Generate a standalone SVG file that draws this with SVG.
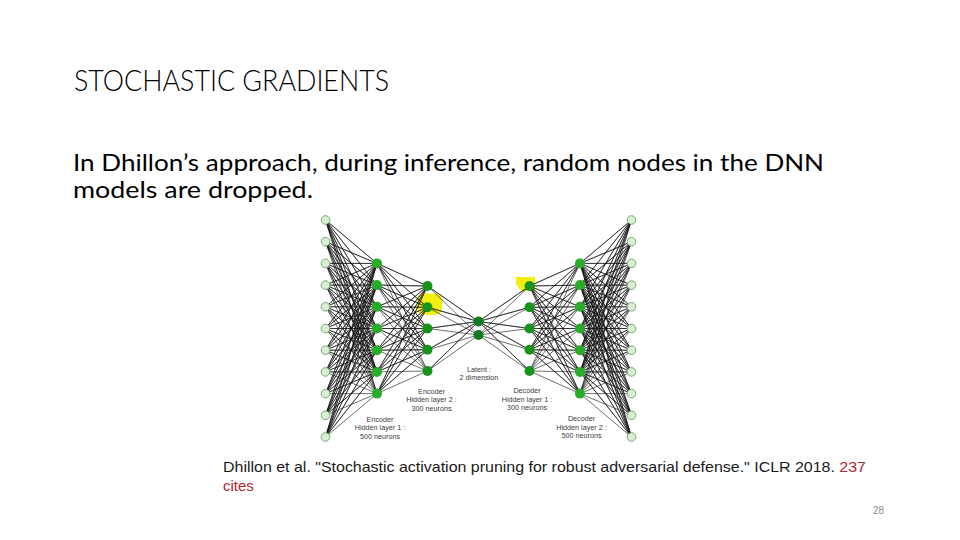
<svg xmlns="http://www.w3.org/2000/svg" xmlns:xlink="http://www.w3.org/1999/xlink" width="960" height="540" viewBox="0 0 960 540">
<defs>
<style>
.title{font-family:Lato,"Liberation Sans",sans-serif;font-weight:300;font-size:29px;fill:#000}
.body{font-family:Lato,"Liberation Sans",sans-serif;font-size:23px;fill:#000}
.cite{font-family:"Liberation Sans",Arial,sans-serif;font-size:15px;fill:#1a1a1a}
.red{fill:#b0262e}
.pg{font-family:"Liberation Sans",Arial,sans-serif;font-size:10px;fill:#8c8c8c}
.lbl{font-family:"Liberation Sans",Arial,sans-serif;font-size:7.2px;fill:#3a3a3a;text-anchor:middle}
.e{fill:none;stroke:#111;stroke-width:0.6}
.in{fill:#d8efd2;stroke:#79a879;stroke-width:1}
.h1{fill:#27ad27}
.h2{fill:#17921b}
.lat{fill:#127a22}
.hl{fill:#f3ee12}
</style>
</defs>
<rect width="960" height="540" fill="#fff"/>

<text class="title" x="74" y="91" textLength="315" lengthAdjust="spacingAndGlyphs">STOCHASTIC GRADIENTS</text>
<text class="body" x="73" y="171" textLength="751" lengthAdjust="spacingAndGlyphs">In Dhillon’s approach, during inference, random nodes in the DNN</text>
<text class="body" x="73" y="198" textLength="240" lengthAdjust="spacingAndGlyphs">models are dropped.</text>

<g id="highlights">
<rect class="hl" x="417" y="293.5" width="25" height="21.5" rx="7"/>
<path class="hl" d="M516 277H535V291H521L516 284Z"/>
</g>

<g id="connectors">
<g id="enc-edges">
<path class="e" d="M325.5 220L377 263.4 325.5 220 377 285.1 325.5 220 377 306.8 325.5 220 377 328.5 325.5 220 377 350.2 325.5 220 377 371.9 325.5 220 377 393.6
M325.5 241.7L377 263.4 325.5 241.7 377 285.1 325.5 241.7 377 306.8 325.5 241.7 377 328.5 325.5 241.7 377 350.2 325.5 241.7 377 371.9 325.5 241.7 377 393.6
M325.5 263.4L377 263.4 325.5 263.4 377 285.1 325.5 263.4 377 306.8 325.5 263.4 377 328.5 325.5 263.4 377 350.2 325.5 263.4 377 371.9 325.5 263.4 377 393.6
M325.5 285.1L377 263.4 325.5 285.1 377 285.1 325.5 285.1 377 306.8 325.5 285.1 377 328.5 325.5 285.1 377 350.2 325.5 285.1 377 371.9 325.5 285.1 377 393.6
M325.5 306.8L377 263.4 325.5 306.8 377 285.1 325.5 306.8 377 306.8 325.5 306.8 377 328.5 325.5 306.8 377 350.2 325.5 306.8 377 371.9 325.5 306.8 377 393.6
M325.5 328.5L377 263.4 325.5 328.5 377 285.1 325.5 328.5 377 306.8 325.5 328.5 377 328.5 325.5 328.5 377 350.2 325.5 328.5 377 371.9 325.5 328.5 377 393.6
M325.5 350.2L377 263.4 325.5 350.2 377 285.1 325.5 350.2 377 306.8 325.5 350.2 377 328.5 325.5 350.2 377 350.2 325.5 350.2 377 371.9 325.5 350.2 377 393.6
M325.5 371.9L377 263.4 325.5 371.9 377 285.1 325.5 371.9 377 306.8 325.5 371.9 377 328.5 325.5 371.9 377 350.2 325.5 371.9 377 371.9 325.5 371.9 377 393.6
M325.5 393.6L377 263.4 325.5 393.6 377 285.1 325.5 393.6 377 306.8 325.5 393.6 377 328.5 325.5 393.6 377 350.2 325.5 393.6 377 371.9 325.5 393.6 377 393.6
M325.5 415.3L377 263.4 325.5 415.3 377 285.1 325.5 415.3 377 306.8 325.5 415.3 377 328.5 325.5 415.3 377 350.2 325.5 415.3 377 371.9 325.5 415.3 377 393.6
M325.5 437L377 263.4 325.5 437 377 285.1 325.5 437 377 306.8 325.5 437 377 328.5 325.5 437 377 350.2 325.5 437 377 371.9 325.5 437 377 393.6"/>
<path class="e" d="M377 263.4L427.5 286 377 263.4 427.5 307.3 377 263.4 427.5 328.5 377 263.4 427.5 349.8 377 263.4 427.5 371
M377 285.1L427.5 286 377 285.1 427.5 307.3 377 285.1 427.5 328.5 377 285.1 427.5 349.8 377 285.1 427.5 371
M377 306.8L427.5 286 377 306.8 427.5 307.3 377 306.8 427.5 328.5 377 306.8 427.5 349.8 377 306.8 427.5 371
M377 328.5L427.5 286 377 328.5 427.5 307.3 377 328.5 427.5 328.5 377 328.5 427.5 349.8 377 328.5 427.5 371
M377 350.2L427.5 286 377 350.2 427.5 307.3 377 350.2 427.5 328.5 377 350.2 427.5 349.8 377 350.2 427.5 371
M377 371.9L427.5 286 377 371.9 427.5 307.3 377 371.9 427.5 328.5 377 371.9 427.5 349.8 377 371.9 427.5 371
M377 393.6L427.5 286 377 393.6 427.5 307.3 377 393.6 427.5 328.5 377 393.6 427.5 349.8 377 393.6 427.5 371"/>
<path class="e" d="M427.5 286L478.5 321.5 427.5 286 478.5 335
M427.5 307.3L478.5 321.5 427.5 307.3 478.5 335
M427.5 328.5L478.5 321.5 427.5 328.5 478.5 335
M427.5 349.8L478.5 321.5 427.5 349.8 478.5 335
M427.5 371L478.5 321.5 427.5 371 478.5 335"/>
</g>
<use id="dec-edges" xlink:href="#enc-edges" href="#enc-edges" transform="matrix(-1 0 0 1 957 0)"/>
</g>

<g id="in0"><circle class="in" cx="325.5" cy="220" r="4.3"/></g>
<g id="in1"><circle class="in" cx="325.5" cy="241.7" r="4.3"/></g>
<g id="in2"><circle class="in" cx="325.5" cy="263.4" r="4.3"/></g>
<g id="in3"><circle class="in" cx="325.5" cy="285.1" r="4.3"/></g>
<g id="in4"><circle class="in" cx="325.5" cy="306.8" r="4.3"/></g>
<g id="in5"><circle class="in" cx="325.5" cy="328.5" r="4.3"/></g>
<g id="in6"><circle class="in" cx="325.5" cy="350.2" r="4.3"/></g>
<g id="in7"><circle class="in" cx="325.5" cy="371.9" r="4.3"/></g>
<g id="in8"><circle class="in" cx="325.5" cy="393.6" r="4.3"/></g>
<g id="in9"><circle class="in" cx="325.5" cy="415.3" r="4.3"/></g>
<g id="in10"><circle class="in" cx="325.5" cy="437" r="4.3"/></g>

<g id="enc1_0"><circle class="h1" cx="377" cy="263.4" r="5"/></g>
<g id="enc1_1"><circle class="h1" cx="377" cy="285.1" r="5"/></g>
<g id="enc1_2"><circle class="h1" cx="377" cy="306.8" r="5"/></g>
<g id="enc1_3"><circle class="h1" cx="377" cy="328.5" r="5"/></g>
<g id="enc1_4"><circle class="h1" cx="377" cy="350.2" r="5"/></g>
<g id="enc1_5"><circle class="h1" cx="377" cy="371.9" r="5"/></g>
<g id="enc1_6"><circle class="h1" cx="377" cy="393.6" r="5"/></g>

<g id="enc2_0"><circle class="h2" cx="427.5" cy="286" r="5"/></g>
<g id="enc2_1"><circle class="h2" cx="427.5" cy="307.3" r="5"/></g>
<g id="enc2_2"><circle class="h2" cx="427.5" cy="328.5" r="5"/></g>
<g id="enc2_3"><circle class="h2" cx="427.5" cy="349.8" r="5"/></g>
<g id="enc2_4"><circle class="h2" cx="427.5" cy="371" r="5"/></g>

<g id="lat0"><circle class="lat" cx="478.5" cy="321.5" r="5"/></g>
<g id="lat1"><circle class="lat" cx="478.5" cy="335" r="5"/></g>

<g id="dec1_0"><circle class="h2" cx="529.5" cy="286" r="5"/></g>
<g id="dec1_1"><circle class="h2" cx="529.5" cy="307.3" r="5"/></g>
<g id="dec1_2"><circle class="h2" cx="529.5" cy="328.5" r="5"/></g>
<g id="dec1_3"><circle class="h2" cx="529.5" cy="349.8" r="5"/></g>
<g id="dec1_4"><circle class="h2" cx="529.5" cy="371" r="5"/></g>

<g id="dec2_0"><circle class="h1" cx="580" cy="263.4" r="5"/></g>
<g id="dec2_1"><circle class="h1" cx="580" cy="285.1" r="5"/></g>
<g id="dec2_2"><circle class="h1" cx="580" cy="306.8" r="5"/></g>
<g id="dec2_3"><circle class="h1" cx="580" cy="328.5" r="5"/></g>
<g id="dec2_4"><circle class="h1" cx="580" cy="350.2" r="5"/></g>
<g id="dec2_5"><circle class="h1" cx="580" cy="371.9" r="5"/></g>
<g id="dec2_6"><circle class="h1" cx="580" cy="393.6" r="5"/></g>

<g id="out0"><circle class="in" cx="631.5" cy="220" r="4.3"/></g>
<g id="out1"><circle class="in" cx="631.5" cy="241.7" r="4.3"/></g>
<g id="out2"><circle class="in" cx="631.5" cy="263.4" r="4.3"/></g>
<g id="out3"><circle class="in" cx="631.5" cy="285.1" r="4.3"/></g>
<g id="out4"><circle class="in" cx="631.5" cy="306.8" r="4.3"/></g>
<g id="out5"><circle class="in" cx="631.5" cy="328.5" r="4.3"/></g>
<g id="out6"><circle class="in" cx="631.5" cy="350.2" r="4.3"/></g>
<g id="out7"><circle class="in" cx="631.5" cy="371.9" r="4.3"/></g>
<g id="out8"><circle class="in" cx="631.5" cy="393.6" r="4.3"/></g>
<g id="out9"><circle class="in" cx="631.5" cy="415.3" r="4.3"/></g>
<g id="out10"><circle class="in" cx="631.5" cy="437" r="4.3"/></g>

<g id="labels">
<text class="lbl" x="380" y="421.5">Encoder</text>
<text class="lbl" x="380" y="430">Hidden layer 1 :</text>
<text class="lbl" x="380" y="438.5">500 neurons</text>
<text class="lbl" x="431.5" y="393.5">Encoder</text>
<text class="lbl" x="431.5" y="402">Hidden layer 2 :</text>
<text class="lbl" x="431.5" y="410.5">300 neurons</text>
<text class="lbl" x="479" y="371.5">Latent :</text>
<text class="lbl" x="479" y="380">2 dimension</text>
<text class="lbl" x="527" y="393">Decoder</text>
<text class="lbl" x="527" y="401.5">Hidden layer 1 :</text>
<text class="lbl" x="527" y="410">300 neurons</text>
<text class="lbl" x="581.5" y="421">Decoder</text>
<text class="lbl" x="581.5" y="429.5">Hidden layer 2 :</text>
<text class="lbl" x="581.5" y="438">500 neurons</text>
</g>

<text class="cite" x="223" y="471.5" textLength="643" lengthAdjust="spacingAndGlyphs">Dhillon et al. "Stochastic activation pruning for robust adversarial defense." ICLR 2018. <tspan class="red">237</tspan></text>
<text class="cite red" x="223" y="491">cites</text>
<text class="pg" x="873" y="514">28</text>
</svg>
